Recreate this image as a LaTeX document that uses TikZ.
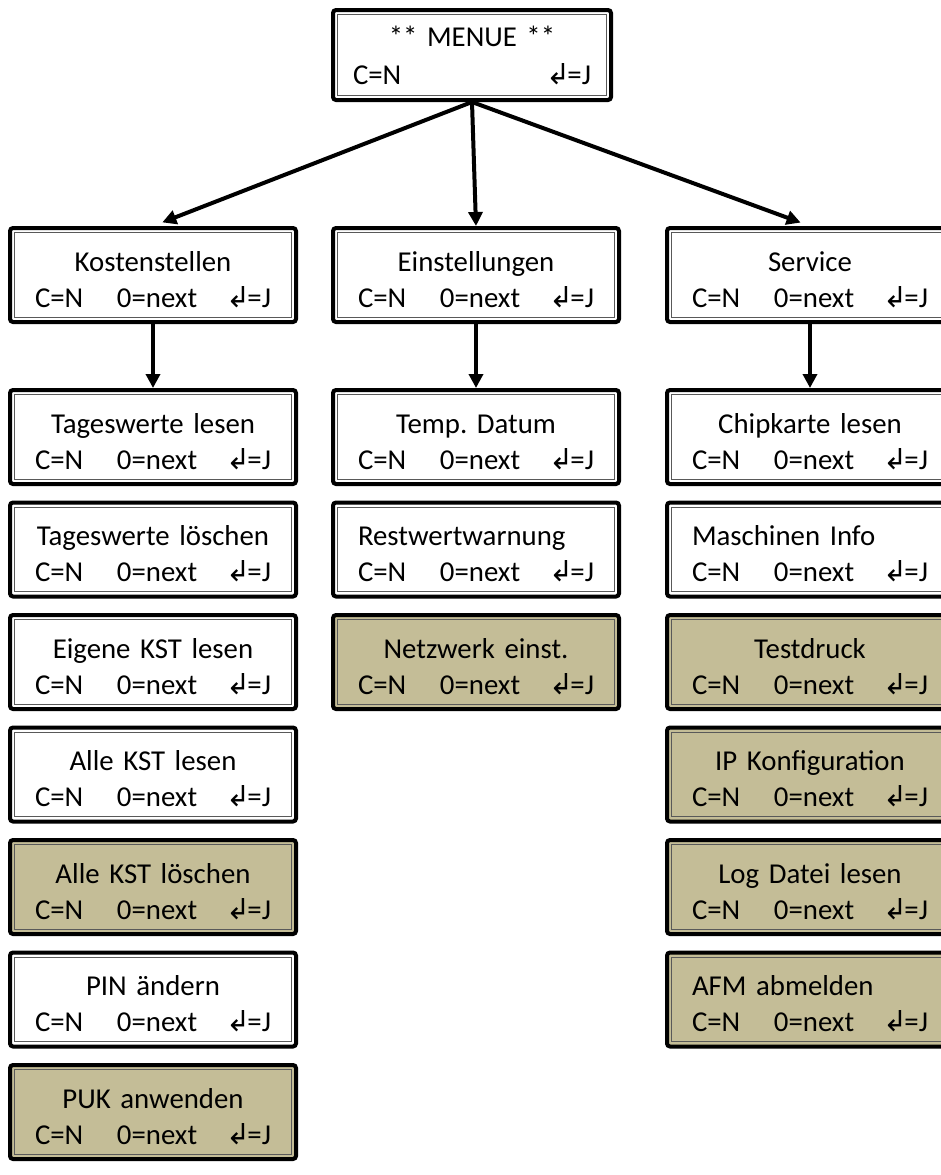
\documentclass[tikz,border=0pt]{standalone}
\usepackage{fontspec}
\setmainfont{Carlito}
\newfontfamily\arrowfont{DejaVu Sans}
\usetikzlibrary{arrows.meta}
\frenchspacing
\definecolor{lcdfill}{HTML}{C4BD97}
\newcommand\enterkey{{\arrowfont\symbol{"21B2}}\kern-1.5pt}
\newcommand\keyrow{\makebox[118pt][l]{\makebox[41pt][l]{C=N}0=next\hfill\enterkey=J}}
\newcommand\lefttitle[1]{\makebox[118pt][l]{#1}}
\newcommand\screen[1]{\rule{0pt}{14.5pt}#1\\\keyrow}
\tikzset{
  lcd/.style={draw, line width=2pt, rounded corners=1.5pt, fill=white,
    minimum width=143pt, minimum height=47pt, inner sep=0pt,
    text width=118pt, align=center, font=\fontsize{14.4}{18}\selectfont,
    path picture={\draw[line width=0.5pt, black!65, sharp corners]
      ([shift={(2.3pt,-2.3pt)}]path picture bounding box.north west) rectangle
      ([shift={(-2.3pt,2.3pt)}]path picture bounding box.south east);}},
  lcdopt/.style={lcd, fill=lcdfill},
  link/.style={-{Triangle[length=7pt,width=7pt]}, line width=2pt},
}
\begin{document}
\begin{tikzpicture}[x=0.5pt,y=-0.5pt]
\fill[white] (0,0) rectangle (941,1175);
\useasboundingbox (0,0) rectangle (941,1175);
\node[lcd, minimum width=139pt, minimum height=45pt, text width=119pt,
  font=\fontsize{14.4}{19}\selectfont] (menue) at (472,55)
  {** MENUE **\\\makebox[119pt][l]{C=N\hfill\enterkey=J}};
\node[lcd] (kst) at (153,275) {\screen{Kostenstellen}};
\node[lcd] (einst) at (476,275) {\screen{Einstellungen}};
\node[lcd] (serv) at (810,275) {\screen{Service}};
\node[lcd] (tagles) at (153,437) {\screen{Tageswerte lesen}};
\node[lcd] (taglo) at (153,549.5) {\screen{Tageswerte löschen}};
\node[lcd] (eigkst) at (153,662) {\screen{Eigene KST lesen}};
\node[lcd] (allkst) at (153,774.5) {\screen{Alle KST lesen}};
\node[lcdopt] (allklo) at (153,887) {\screen{Alle KST löschen}};
\node[lcd] (pin) at (153,999.5) {\screen{PIN ändern}};
\node[lcdopt] (puk) at (153,1112) {\screen{PUK anwenden}};
\node[lcd] (datum) at (476,437) {\screen{Temp. Datum}};
\node[lcd] (restw) at (476,549.5) {\screen{\lefttitle{Restwertwarnung}}};
\node[lcdopt] (netz) at (476,662) {\screen{Netzwerk einst.}};
\node[lcd] (chip) at (810,437) {\screen{Chipkarte lesen}};
\node[lcd] (masch) at (810,549.5) {\screen{\lefttitle{Maschinen Info}}};
\node[lcdopt] (test) at (810,662) {\screen{Testdruck}};
\node[lcdopt] (ipkonf) at (810,774.5) {\screen{IP Konfiguration}};
\node[lcdopt] (logdat) at (810,887) {\screen{Log Datei lesen}};
\node[lcdopt] (afm) at (810,999.5) {\screen{\lefttitle{AFM abmelden}}};
\draw[link, shorten >=5pt] (menue.south) -- (kst.north);
\draw[link] (menue.south) -- (einst.north);
\draw[link, shorten >=5pt] (menue.south) -- (serv.north);
\draw[link] (kst.south) -- (tagles.north);
\draw[link] (einst.south) -- (datum.north);
\draw[link] (serv.south) -- (chip.north);
\end{tikzpicture}
\end{document}
